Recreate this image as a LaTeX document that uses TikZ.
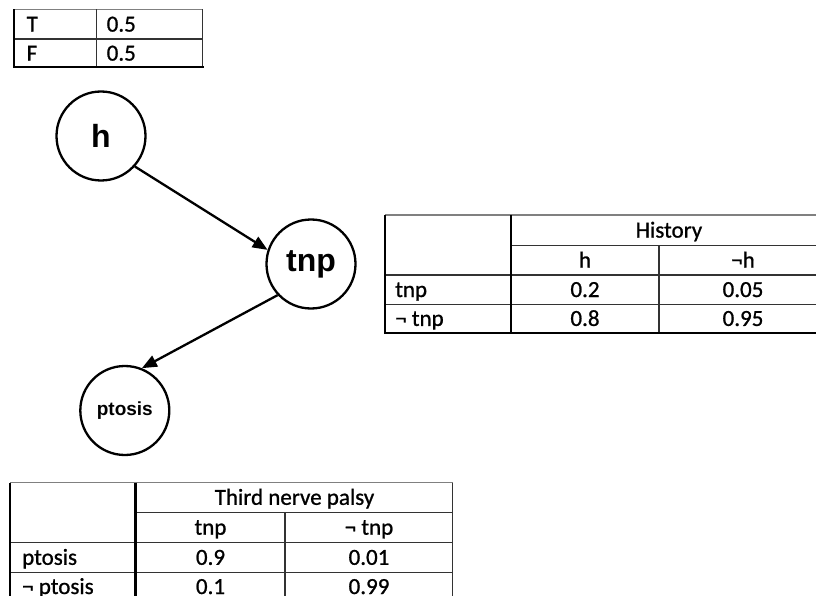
\documentclass[tikz,border=0pt]{standalone}
\usepackage{fontspec}
\setmainfont{Carlito}[FakeBold=0.9]
\newfontfamily\cellfont{Carlito}[FakeBold=0.9]
\newfontfamily\nodefont{Liberation Sans}
\usetikzlibrary{arrows.meta}

\begin{document}
\begin{tikzpicture}[x=1pt,y=-1pt,
  gridline/.style={line width=1.5pt, black!80},
  heavyline/.style={line width=2.2pt, black},
  topline/.style={line width=1.5pt, black!50},
  cell/.style={inner sep=0pt, anchor=base, font=\cellfont\fontsize{23}{27}\selectfont},
  rowlabel/.style={cell, anchor=base west},
  varnode/.style={circle, draw, line width=2.3pt, minimum size=89pt, inner sep=0pt,
    font=\nodefont\bfseries\fontsize{32}{36}\selectfont},
  smallvar/.style={varnode, font=\nodefont\bfseries\fontsize{19}{22}\selectfont},
  edge/.style={line width=2.3pt, -{Triangle[length=15pt,width=12pt]}}]

\useasboundingbox (0,0) rectangle (816,596);

% ---- prior table for h ----
\draw[topline] (14,9.3) -- (202.7,9.3);
\draw[gridline] (14,39) -- (202.7,39);
\draw[gridline] (96.7,9.3) -- (96.7,67.3);
\draw[gridline] (202.7,9.3) -- (202.7,67.3);
\draw[heavyline] (14,9.3) -- (14,67.3);
\draw[heavyline] (13,67.3) -- (203.5,67.3);
\node[rowlabel] (pT) at (26.5,31.6) {T};
\node[rowlabel] (pF) at (26.5,60.6) {F};
\node[rowlabel] (pTv) at (106.5,31.6) {0.5};
\node[rowlabel] (pFv) at (106.5,60.6) {0.5};

% ---- network ----
\node[varnode] (h) at (101,136) {h};
\node[varnode] (tnp) at (311,264) {tnp};
\node[smallvar] (ptosis) at (124.8,410.5) {ptosis};
\draw[edge] (h.-42.4) -- (tnp.162);
\draw[edge] (tnp.223.3) -- (ptosis.68);

% ---- conditional table for tnp given history ----
\draw[topline] (385,215) -- (816,215);
\draw[gridline] (510.7,245.5) -- (816,245.5);
\draw[gridline] (385,275) -- (816,275);
\draw[gridline] (385,304.3) -- (816,304.3);
\draw[gridline] (659,245.5) -- (659,332.7);
\draw[heavyline] (385,215) -- (385,332.7);
\draw[heavyline] (510.7,215) -- (510.7,332.7);
\draw[heavyline] (384,332.7) -- (816,332.7);
\node[cell] (hist) at (669,237.6) {History};
\node[cell] (colh) at (585,267.6) {h};
\node[cell] (colnh) at (743,267.6) {¬h};
\node[rowlabel] (rtnp) at (395,297) {tnp};
\node[rowlabel] (rntnp) at (395,325.9) {¬ tnp};
\node[cell] (v11) at (585,297) {0.2};
\node[cell] (v12) at (743,297) {0.05};
\node[cell] (v21) at (585,325.9) {0.8};
\node[cell] (v22) at (743,325.9) {0.95};

% ---- conditional table for ptosis given tnp ----
\draw[topline] (10,482.7) -- (452.7,482.7);
\draw[gridline] (135.5,512.3) -- (452.7,512.3);
\draw[gridline] (10,542.5) -- (452.7,542.5);
\draw[gridline] (10,572.5) -- (452.7,572.5);
\draw[gridline] (285,512.3) -- (285,602);
\draw[gridline] (452.7,482.7) -- (452.7,602);
\draw[heavyline] (10,482.7) -- (10,602);
\draw[heavyline] (135.5,482.7) -- (135.5,602);
\node[cell] (tnphead) at (294.5,504.8) {Third nerve palsy};
\node[cell] (coltnp) at (210.5,534.7) {tnp};
\node[cell] (colntnp) at (369,534.7) {¬ tnp};
\node[rowlabel] (rpt) at (22,564.8) {ptosis};
\node[rowlabel] (rnpt) at (22,594) {¬ ptosis};
\node[cell] (w11) at (210.5,564.8) {0.9};
\node[cell] (w12) at (369,564.8) {0.01};
\node[cell] (w21) at (210.5,594) {0.1};
\node[cell] (w22) at (369,594) {0.99};

\end{tikzpicture}
\end{document}
